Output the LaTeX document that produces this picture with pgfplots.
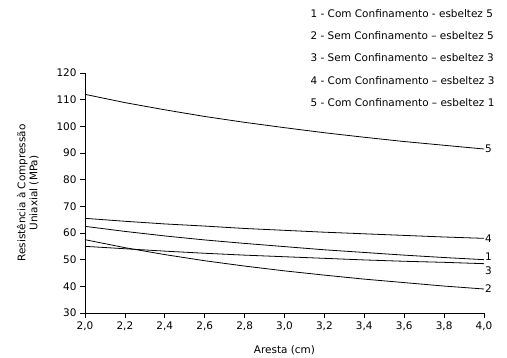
\documentclass[border=0pt]{standalone}
\usepackage{pgfplots}
\pgfplotsset{compat=1.18}
\usepackage{fontspec}
\setmainfont{DejaVu Sans}
\begin{document}
\begin{tikzpicture}
\useasboundingbox (-85bp,-45bp) rectangle (422bp,313bp);
\begin{axis}[
  scale only axis, width=399bp, height=240bp,
  xmin=2, xmax=4, ymin=30, ymax=120,
  axis lines=left, axis line style={-, line width=0.7bp},
  xtick={2,2.2,...,4.01}, ytick={30,40,...,120},
  tick align=outside, major tick length=5bp,
  tick style={black, line width=0.7bp},
  /pgf/number format/assume math mode=true,
  xticklabel style={/pgf/number format/.cd, fixed, fixed zerofill, precision=1, use comma},
  ticklabel style={font=\fontsize{10.5}{12}\selectfont},
  label style={font=\fontsize{10.5}{12}\selectfont},
  xlabel={Aresta (cm)},
  ylabel={Resistência à Compressão\\Uniaxial (MPa)},
  ylabel style={align=center, anchor=center, at={(rel axis cs:-0.143,0.5)}},
  xlabel style={anchor=center, at={(rel axis cs:0.5,-0.154)}},
  clip=false,
]
% 5
\addplot[black, line width=0.8bp] coordinates {(2.0,112.0)(2.2,108.9)(2.4,106.2)(2.6,103.7)(2.8,101.5)(3.0,99.5)(3.2,97.6)(3.4,95.9)(3.6,94.3)(3.8,92.9)(4.0,91.5)};
% 4
\addplot[black, line width=0.8bp] coordinates {(2.0,65.5)(2.2,64.4)(2.4,63.4)(2.6,62.6)(2.8,61.7)(3.0,61.0)(3.2,60.3)(3.4,59.7)(3.6,59.1)(3.8,58.5)(4.0,58.0)};
% 1
\addplot[black, line width=0.8bp] coordinates {(2.0,62.5)(2.2,60.6)(2.4,58.9)(2.6,57.4)(2.8,56.1)(3.0,54.9)(3.2,53.7)(3.4,52.7)(3.6,51.7)(3.8,50.8)(4.0,50.0)};
% 3
\addplot[black, line width=0.8bp] coordinates {(2.0,55.0)(2.2,54.1)(2.4,53.2)(2.6,52.4)(2.8,51.7)(3.0,51.1)(3.2,50.5)(3.4,49.9)(3.6,49.4)(3.8,49.0)(4.0,48.5)};
% 2
\addplot[black, line width=0.8bp] coordinates {(2.0,57.5)(2.2,54.5)(2.4,51.9)(2.6,49.6)(2.8,47.6)(3.0,45.8)(3.2,44.2)(3.4,42.7)(3.6,41.4)(3.8,40.1)(4.0,39.0)};
\node[anchor=west, inner sep=1bp, font=\fontsize{10.5}{12}\selectfont] at (axis cs:4.0,91.5) {5};
\node[anchor=west, inner sep=1bp, font=\fontsize{10.5}{12}\selectfont] at (axis cs:4.0,58.0) {4};
\node[anchor=west, inner sep=1bp, font=\fontsize{10.5}{12}\selectfont] at (axis cs:4.0,51.0) {1};
\node[anchor=west, inner sep=1bp, font=\fontsize{10.5}{12}\selectfont] at (axis cs:4.0,46.0) {3};
\node[anchor=west, inner sep=1bp, font=\fontsize{10.5}{12}\selectfont] at (axis cs:4.0,39.0) {2};
\node[anchor=north west, inner sep=0pt, align=left, font=\fontsize{10.5}{22.3}\selectfont] at (rel axis cs:0.565,1.265)
 {1 - Com Confinamento - esbeltez 5\\
  2 - Sem Confinamento – esbeltez 5\\
  3 - Sem Confinamento – esbeltez 3\\
  4 - Com Confinamento – esbeltez 3\\
  5 - Com Confinamento – esbeltez 1};
\end{axis}
\end{tikzpicture}
\end{document}
